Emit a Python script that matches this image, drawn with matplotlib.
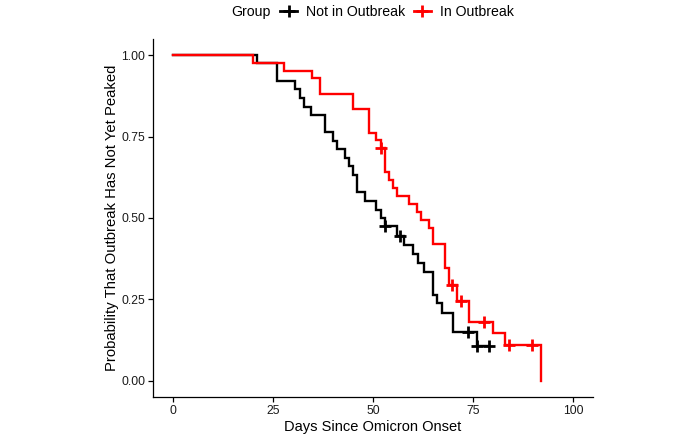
import numpy as np
import matplotlib
matplotlib.use("Agg")
import matplotlib.pyplot as plt
from matplotlib.lines import Line2D

plt.rcParams['font.family'] = ['Liberation Sans', 'DejaVu Sans']

# Kaplan-Meier style step data
groups = ["Not in Outbreak", "In Outbreak"]
colors = ["black", "red"]

times_not = [0, 21, 26, 30.5, 31.75, 32.75, 34.5, 38, 40, 41, 43, 44, 45, 46, 48,
             50.75, 52, 53, 56, 57.75, 60, 61.25, 62.75, 65, 66, 67.25, 70, 76, 79]
surv_not = [1.0, 0.974, 0.921, 0.895, 0.868, 0.842, 0.816, 0.763, 0.737, 0.711,
            0.684, 0.658, 0.632, 0.579, 0.553, 0.526, 0.500, 0.474, 0.446, 0.418,
            0.390, 0.362, 0.334, 0.265, 0.238, 0.209, 0.149, 0.107, 0.107]
censor_not = [53, 56.75, 73.75, 76, 79]

times_in = [0, 20, 27.75, 34.75, 36.75, 45, 49, 50.75, 52, 53, 54, 55, 56, 59,
            61, 62, 64, 65, 68, 69, 71, 74, 80, 83, 92]
surv_in = [1.0, 0.976, 0.952, 0.929, 0.881, 0.833, 0.762, 0.738, 0.714, 0.640,
           0.616, 0.591, 0.567, 0.542, 0.517, 0.493, 0.469, 0.421, 0.346, 0.295,
           0.244, 0.182, 0.148, 0.110, 0.0]
censor_in = [52, 69.75, 72, 77.75, 84, 89.75]

x_ticks = [0, 25, 50, 75, 100]
y_ticks = [0.00, 0.25, 0.50, 0.75, 1.00]
y_ticklabels = ["0.00", "0.25", "0.50", "0.75", "1.00"]

fig = plt.figure(figsize=(7, 4.34), dpi=100)
ax = fig.add_axes([0.2186, 0.0846, 0.8471 - 0.2186, 0.9108 - 0.0846])

def step_value(times, surv, t):
    idx = np.searchsorted(times, t, side='right') - 1
    return np.asarray(surv)[idx]

series = [(times_not, surv_not, censor_not), (times_in, surv_in, censor_in)]
for (t, s, c), col in zip(series, colors):
    ax.step(t, s, where='post', color=col, lw=1.7, solid_joinstyle='miter')
    cy = step_value(np.asarray(t), s, np.asarray(c))
    ax.plot(c, cy, linestyle='none', marker='+', markersize=9, mew=2, color=col)

ax.set_xlim(-5, 105)
ax.set_ylim(-0.05, 1.05)
ax.set_xticks(x_ticks)
ax.set_yticks(y_ticks)
ax.set_yticklabels(y_ticklabels)
for sp in ['top', 'right']:
    ax.spines[sp].set_visible(False)
for sp in ['left', 'bottom']:
    ax.spines[sp].set_linewidth(0.9)
ax.tick_params(axis='both', length=3.5, width=0.9, labelsize=8.7, colors='black',
               labelcolor='#1a1a1a', pad=2)
ax.set_xlabel("Days Since Omicron Onset", fontsize=10.5, labelpad=2)
ax.set_ylabel("Probability That Outbreak Has Not Yet Peaked", fontsize=10.7, labelpad=2)

# legend at top
fig.text(0.331, 0.972, "Group", fontsize=10.2, ha='left', va='center')
handles = [Line2D([0], [0], color=c, lw=2, marker='+', markersize=9, mew=2) for c in colors]
fig.legend(handles, groups, loc='center left', bbox_to_anchor=(0.400, 0.972), ncol=2,
           frameon=False, fontsize=10.2, handlelength=1.2, handletextpad=0.65,
           columnspacing=0.6, borderaxespad=0, borderpad=0)

fig.savefig("out.png", dpi=100)
